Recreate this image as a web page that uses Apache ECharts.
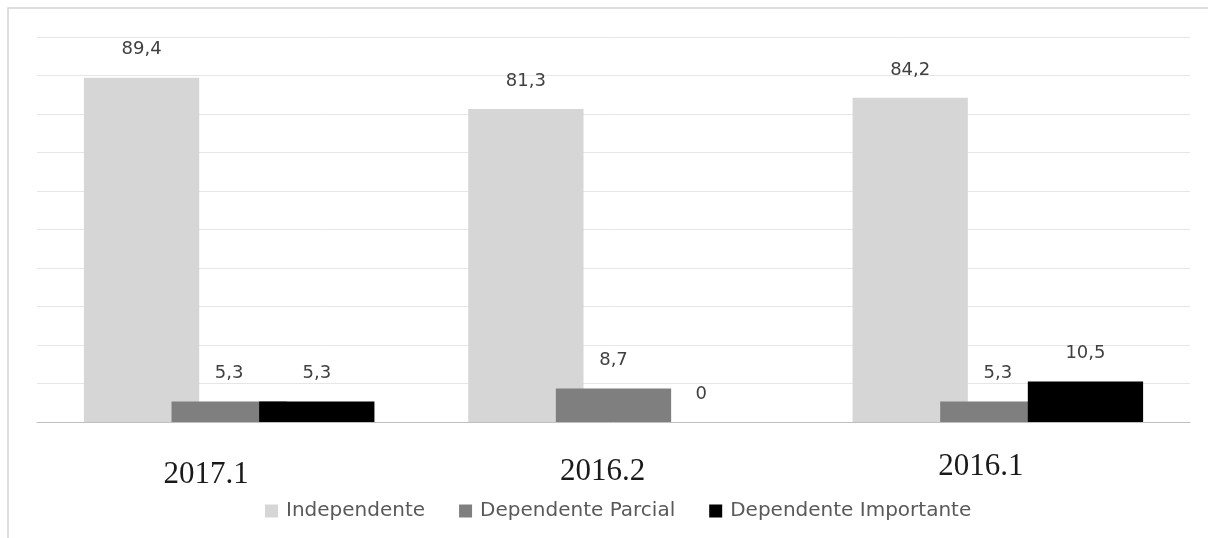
<!DOCTYPE html>
<html><head><meta charset="utf-8">
<script src="https://cdn.jsdelivr.net/npm/echarts@6/dist/echarts.min.js"></script>
<style>html,body{margin:0;padding:0;background:#fff}#c{width:1208px;height:538px}</style>
</head><body><div id="c"></div>
<script>
const categories = ['2017.1', '2016.2', '2016.1'];
const seriesNames = ['Independente', 'Dependente Parcial', 'Dependente Importante'];
const independente = [89.4, 81.3, 84.2];
const dependenteParcial = [5.3, 8.7, 5.3];
const dependenteImportante = [5.3, 0, 10.5];
const colors = ['#d6d6d6', '#7f7f7f', '#000000'];
const values = [independente, dependenteParcial, dependenteImportante];

const chart = echarts.init(document.getElementById('c'));
const catRich = {
  c0: {fontFamily: 'Liberation Serif', fontSize: 31, color: '#1a1a1a', padding: [19, 46, 0, 0], lineHeight: 30},
  c1: {fontFamily: 'Liberation Serif', fontSize: 31, color: '#1a1a1a', padding: [14, 22, 0, 0], lineHeight: 30},
  c2: {fontFamily: 'Liberation Serif', fontSize: 31, color: '#1a1a1a', padding: [4, 34, 0, 0], lineHeight: 30}
};
chart.setOption({
  animation: false,
  backgroundColor: '#fff',
  graphic: [{
    type: 'rect', shape: {x: 8, y: 8, width: 1220, height: 560},
    style: {fill: 'none', stroke: '#d4d4d4', lineWidth: 1.5}, silent: true
  }],
  grid: {left: 37, right: 18, top: 37, bottom: 116},
  legend: {
    top: 496, left: 260, itemWidth: 13, itemHeight: 13, itemGap: 34,
    icon: 'rect',
    textStyle: {fontFamily: 'DejaVu Sans', fontSize: 20, color: '#595959', padding: [0, 0, 0, 3]},
    data: seriesNames
  },
  xAxis: {
    type: 'category', data: categories,
    axisLine: {lineStyle: {color: '#bfbfbf', width: 1}},
    axisTick: {show: false},
    axisLabel: {
      margin: 28, verticalAlign: 'top',
      formatter: (v, i) => `{c${i}|${v}}`,
      rich: catRich
    }
  },
  yAxis: {
    type: 'value', min: 0, max: 100, interval: 10,
    axisLine: {show: false}, axisTick: {show: false}, axisLabel: {show: false},
    splitLine: {lineStyle: {color: '#e6e6e6', width: 1}}
  },
  series: seriesNames.map((name, k) => ({
    name, type: 'bar', data: values[k],
    barWidth: '30%', barGap: '-24%',
    itemStyle: {color: colors[k]},
    label: {
      show: true, position: 'top', distance: 19,
      fontFamily: 'DejaVu Sans', fontSize: 18, color: '#404040',
      formatter: p => String(p.value).replace('.', ',')
    }
  }))
});
</script></body></html>
